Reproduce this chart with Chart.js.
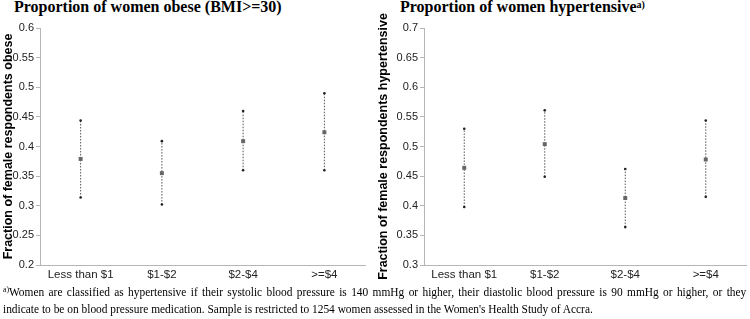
<!DOCTYPE html>
<html>
<head>
<meta charset="utf-8">
<script src="https://cdn.jsdelivr.net/npm/chart.js@4.4.0/dist/chart.umd.min.js"></script>
<style>
  html, body { margin:0; padding:0; background:#fff; }
  body { width:750px; height:319px; position:relative; overflow:hidden; }
  .title { position:absolute; top:-2px; font-family:"Liberation Serif","Times New Roman",serif; font-weight:bold; font-size:16px; color:#000; white-space:nowrap; }
  .title sup { font-size:10px; vertical-align:4px; line-height:0; }
  .cv { position:absolute; top:0; }
  .note { position:absolute; left:3px; width:815px; font-family:"Liberation Serif","Times New Roman",serif; font-size:12.5px; line-height:17px; color:#000; white-space:nowrap; transform:scaleX(0.912); transform-origin:0 0; }
  .note.j { text-align:justify; text-align-last:justify; white-space:normal; }
  .note sup { font-size:8.5px; vertical-align:4px; line-height:0; }
</style>
</head>
<body>
<div class="title" style="left:14px;">Proportion of women obese (BMI&gt;=30)</div>
<div class="title" style="left:400px;">Proportion of women hypertensive<sup>a)</sup></div>
<canvas id="c1" class="cv" style="left:0px;" width="375" height="285"></canvas>
<canvas id="c2" class="cv" style="left:375px;" width="375" height="285"></canvas>
<div class="note j" style="top:284px;"><sup>a)</sup>Women are classified as hypertensive if their systolic blood pressure is 140 mmHg or higher, their diastolic blood pressure is 90 mmHg or higher, or they</div>
<div class="note" style="top:301px;">indicate to be on blood pressure medication. Sample is restricted to 1254 women assessed in the Women's Health Study of Accra.</div>
<script>
const categories = ["Less than $1", "$1-$2", "$2-$4", ">=$4"];

const obeseMean  = [0.379, 0.355, 0.409, 0.424];
const obeseLow   = [0.314, 0.302, 0.360, 0.360];
const obeseHigh  = [0.444, 0.409, 0.460, 0.490];

const hyperMean  = [0.464, 0.504, 0.413, 0.478];
const hyperLow   = [0.398, 0.449, 0.364, 0.415];
const hyperHigh  = [0.530, 0.561, 0.462, 0.544];

const obeseTicks = [0.2, 0.25, 0.3, 0.35, 0.4, 0.45, 0.5, 0.55, 0.6];
const hyperTicks = [0.3, 0.35, 0.4, 0.45, 0.5, 0.55, 0.6, 0.65, 0.7];

function makeChart(id, mean, low, high, ticksArr, yTitle, yWidth, padRight) {
  const datasets = [];
  categories.forEach((c, i) => {
    datasets.push({
      data: [{x: c, y: low[i]}, {x: c, y: high[i]}],
      borderColor: '#555',
      borderWidth: 1,
      borderDash: [1.5, 1.5],
      pointRadius: 1.3,
      pointBackgroundColor: '#222',
      pointBorderWidth: 0,
      showLine: true,
      order: 2
    });
  });
  datasets.push({
    data: mean,
    showLine: false,
    pointStyle: 'rect',
    pointRadius: 2.8,
    pointBackgroundColor: '#666',
    pointBorderColor: '#666',
    pointBorderWidth: 0,
    order: 1
  });
  return new Chart(document.getElementById(id), {
    type: 'line',
    data: { labels: categories, datasets },
    options: {
      responsive: false,
      animation: false,
      events: [],
      layout: { padding: { left: 0, right: padRight, top: 28, bottom: 0 } },
      plugins: { legend: { display: false }, tooltip: { enabled: false } },
      scales: {
        x: {
          type: 'category',
          offset: true,
          grid: { display: false, drawTicks: false },
          border: { display: true, color: '#b5b5b5', width: 1 },
          ticks: { color: '#222', font: { family: 'Liberation Sans, Arial, sans-serif', size: 11.5 }, padding: 3, maxRotation: 0 },
          afterFit: s => { s.height = 20; }
        },
        y: {
          min: ticksArr[0],
          max: ticksArr[ticksArr.length - 1],
          afterBuildTicks: s => { s.ticks = ticksArr.map(v => ({ value: v })); },
          grid: { drawOnChartArea: false, drawTicks: true, tickLength: 4, color: '#b5b5b5' },
          border: { display: true, color: '#b5b5b5', width: 1 },
          ticks: { color: '#222', font: { family: 'Liberation Sans, Arial, sans-serif', size: 11 }, padding: 2,
                   callback: v => String(Math.round(v * 100) / 100) },
          title: { display: true, text: yTitle, color: '#000', font: { family: 'Liberation Sans, Arial, sans-serif', size: 12.5, weight: 'bold' }, padding: { top: 1, bottom: 0 } },
          afterFit: s => { s.width = yWidth; }
        }
      }
    }
  });
}

makeChart('c1', obeseMean, obeseLow, obeseHigh, obeseTicks, 'Fraction of female respondents obese', 40, 10);
makeChart('c2', hyperMean, hyperLow, hyperHigh, hyperTicks, 'Fraction of female respondents hypertensive', 49, 1);
</script>
</body>
</html>
